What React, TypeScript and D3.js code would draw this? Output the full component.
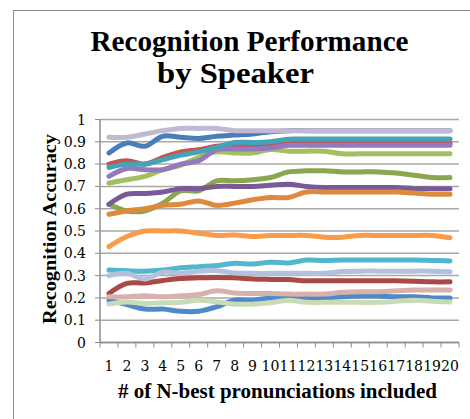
import React from "react";
import * as d3 from "d3";

const categories = Array.from({ length: 20 }, (_, i) => String(i + 1));
const yTicks = [0, 0.1, 0.2, 0.3, 0.4, 0.5, 0.6, 0.7, 0.8, 0.9, 1];
const yTickLabels = ["0", "0.1", "0.2", "0.3", "0.4", "0.5", "0.6", "0.7", "0.8", "0.9", "1"];

const steelBlue = [0.85, 0.895, 0.88, 0.925, 0.92, 0.915, 0.925, 0.93, 0.935, 0.945, 0.95, 0.95, 0.95, 0.95, 0.95, 0.95, 0.95, 0.95, 0.95, 0.95];
const red = [0.80, 0.815, 0.80, 0.83, 0.855, 0.865, 0.88, 0.885, 0.885, 0.89, 0.892, 0.892, 0.892, 0.892, 0.892, 0.892, 0.892, 0.892, 0.892, 0.892];
const lightGreen = [0.715, 0.73, 0.745, 0.775, 0.795, 0.83, 0.855, 0.85, 0.85, 0.865, 0.858, 0.858, 0.858, 0.846, 0.846, 0.846, 0.846, 0.846, 0.846, 0.846];
const purple = [0.745, 0.78, 0.775, 0.775, 0.80, 0.815, 0.865, 0.868, 0.868, 0.872, 0.884, 0.884, 0.884, 0.884, 0.884, 0.884, 0.884, 0.884, 0.884, 0.884];
const teal = [0.785, 0.80, 0.80, 0.82, 0.84, 0.855, 0.875, 0.897, 0.897, 0.90, 0.912, 0.912, 0.912, 0.912, 0.912, 0.912, 0.912, 0.912, 0.912, 0.912];
const lightOrange = [0.43, 0.475, 0.50, 0.50, 0.50, 0.49, 0.48, 0.482, 0.475, 0.48, 0.48, 0.48, 0.472, 0.472, 0.48, 0.48, 0.48, 0.48, 0.48, 0.47];
const blue = [0.19, 0.17, 0.15, 0.15, 0.14, 0.14, 0.16, 0.19, 0.19, 0.20, 0.20, 0.20, 0.20, 0.205, 0.208, 0.208, 0.205, 0.205, 0.20, 0.20];
const darkRed = [0.22, 0.265, 0.267, 0.278, 0.287, 0.29, 0.292, 0.29, 0.285, 0.283, 0.282, 0.277, 0.277, 0.277, 0.277, 0.277, 0.277, 0.275, 0.272, 0.272];
const olive = [0.62, 0.59, 0.59, 0.625, 0.68, 0.68, 0.725, 0.725, 0.73, 0.74, 0.765, 0.77, 0.77, 0.765, 0.765, 0.765, 0.76, 0.75, 0.74, 0.74];
const darkPurple = [0.62, 0.665, 0.668, 0.675, 0.69, 0.69, 0.70, 0.70, 0.70, 0.705, 0.71, 0.70, 0.695, 0.695, 0.695, 0.695, 0.695, 0.69, 0.69, 0.69];
const cyan = [0.325, 0.322, 0.32, 0.325, 0.335, 0.34, 0.345, 0.355, 0.352, 0.36, 0.357, 0.37, 0.368, 0.37, 0.37, 0.37, 0.37, 0.37, 0.368, 0.366];
const darkOrange = [0.575, 0.59, 0.60, 0.615, 0.62, 0.635, 0.615, 0.625, 0.64, 0.65, 0.65, 0.675, 0.675, 0.675, 0.675, 0.675, 0.675, 0.67, 0.665, 0.665];
const periwinkle = [0.30, 0.31, 0.285, 0.315, 0.31, 0.32, 0.322, 0.312, 0.31, 0.31, 0.31, 0.31, 0.31, 0.318, 0.32, 0.32, 0.32, 0.32, 0.32, 0.317];
const pink = [0.205, 0.205, 0.21, 0.205, 0.21, 0.215, 0.232, 0.222, 0.22, 0.22, 0.217, 0.217, 0.217, 0.225, 0.228, 0.228, 0.232, 0.235, 0.235, 0.235];
const paleGreen = [0.172, 0.182, 0.175, 0.178, 0.18, 0.19, 0.182, 0.172, 0.172, 0.178, 0.19, 0.18, 0.18, 0.18, 0.18, 0.18, 0.185, 0.19, 0.185, 0.182];
const lavender = [0.92, 0.92, 0.935, 0.95, 0.96, 0.96, 0.96, 0.95, 0.95, 0.95, 0.95, 0.95, 0.95, 0.95, 0.95, 0.95, 0.95, 0.95, 0.95, 0.95];

const seriesList = [steelBlue, red, lightGreen, purple, teal, lightOrange, blue, darkRed, olive, darkPurple, cyan, darkOrange, periwinkle, pink, paleGreen, lavender];
const seriesColors = ["#4A7EBB", "#C8524E", "#A2C05E", "#9579BE", "#45A3B8", "#F89C4A", "#4F89C8", "#AA4A45", "#8CA64F", "#785B96", "#52B6CF", "#DE8A3D", "#B3C1DE", "#D8B0AC", "#C9DBB5", "#C1B9D3"];

export default function App() {
  const left = 100, right = 459, top = 119.5, bottom = 342.5;
  const x = d3.scalePoint<string>().domain(categories).range([left, right]).padding(0.5);
  const y = d3.scaleLinear().domain([0, 1]).range([bottom, top]);
  const step = x.step();
  const line = d3
    .line<number>()
    .x((_, i) => x(categories[i]) as number)
    .y((d) => y(d))
    .curve(d3.curveCatmullRom.alpha(0.5));
  const tickFont = { fontFamily: "DejaVu Serif" };
  const boldFont = { fontFamily: "Liberation Serif", fontWeight: 700 };
  const boundaries = d3.range(categories.length + 1).map((i) => left + i * step);

  return (
    <div style={{ position: "absolute", left: 0, top: 0 }}>
      <svg width={470} height={419} style={{ display: "block", background: "#fff" }}>
        <rect x={13.5} y={10.5} width={500} height={450} fill="#fff" stroke="#8C8C8C" strokeWidth={1} />
        <text x={249.5} y={51} textAnchor="middle" style={boldFont} fontSize={29} textLength={318} lengthAdjust="spacingAndGlyphs">
          Recognition Performance
        </text>
        <text x={235.5} y={83} textAnchor="middle" style={boldFont} fontSize={29} textLength={157} lengthAdjust="spacingAndGlyphs">
          by Speaker
        </text>
        {yTicks.map((t) => (
          <line key={"g" + t} x1={left} x2={right} y1={y(t)} y2={y(t)} stroke="#A8A8A8" strokeWidth={1.5} />
        ))}
        {yTicks.map((t, i) => (
          <g key={"yt" + t}>
            <line x1={left - 5} x2={left} y1={y(t)} y2={y(t)} stroke="#8C8C8C" strokeWidth={1} />
            <text x={86} y={y(t) + 5} textAnchor="end" style={tickFont} fontSize={14} fill="#000">
              {yTickLabels[i]}
            </text>
          </g>
        ))}
        <line x1={left} x2={left} y1={top} y2={bottom} stroke="#8C8C8C" strokeWidth={1.5} />
        <line x1={left} x2={right} y1={bottom} y2={bottom} stroke="#8C8C8C" strokeWidth={1.5} />
        {boundaries.map((b, i) => (
          <line key={"xb" + i} x1={b} x2={b} y1={bottom} y2={bottom + 5} stroke="#8C8C8C" strokeWidth={1} />
        ))}
        {categories.map((c) => (
          <text key={"xl" + c} x={x(c)} y={371} textAnchor="middle" style={tickFont} fontSize={14} fill="#000">
            {c}
          </text>
        ))}
        {seriesList.map((s, i) => (
          <path
            key={"s" + i}
            d={line(s) as string}
            fill="none"
            stroke={seriesColors[i]}
            strokeWidth={5}
            strokeLinecap="round"
            strokeLinejoin="round"
          />
        ))}
        <text x={277.5} y={398} textAnchor="middle" style={boldFont} fontSize={20} textLength={319} lengthAdjust="spacingAndGlyphs">
          # of N-best pronunciations included
        </text>
        <text transform={`translate(56, 229) rotate(-90)`} textAnchor="middle" style={boldFont} fontSize={18} textLength={190} lengthAdjust="spacingAndGlyphs">
          Recognition Accuracy
        </text>
      </svg>
    </div>
  );
}
